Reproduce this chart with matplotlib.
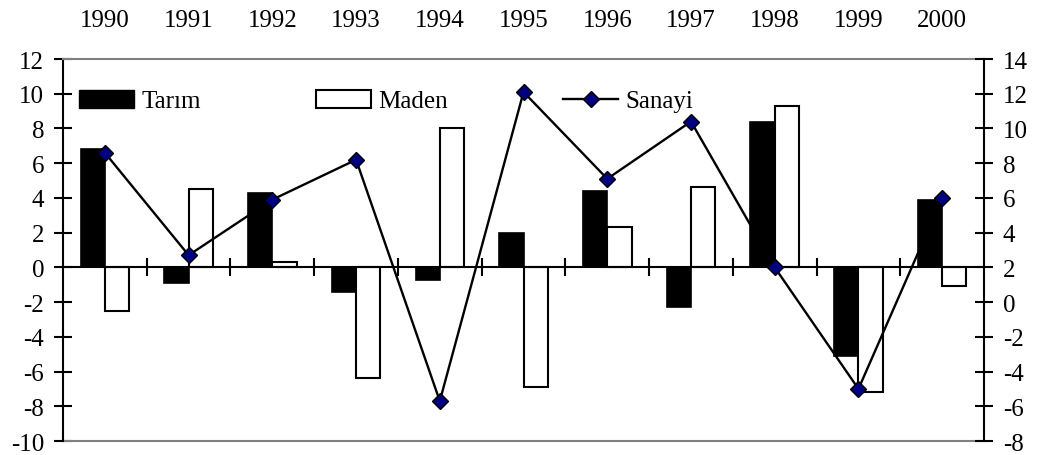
import numpy as np
import matplotlib.pyplot as plt
from matplotlib.patches import Patch
from matplotlib.lines import Line2D

plt.rcParams['font.family'] = 'Liberation Serif'
plt.rcParams['font.size'] = 18
plt.rcParams['axes.unicode_minus'] = False  # plain hyphen like the original

# values (growth rates, %)
years = ['1990', '1991', '1992', '1993', '1994', '1995', '1996', '1997', '1998', '1999', '2000']
tarim = [6.8, -0.9, 4.3, -1.4, -0.7, 2.0, 4.4, -2.3, 8.4, -5.1, 3.9]
maden = [-2.5, 4.5, 0.3, -6.4, 8.0, -6.9, 2.3, 4.6, 9.3, -7.2, -1.1]
sanayi = [8.6, 2.7, 5.9, 8.2, -5.7, 12.1, 7.1, 10.4, 2.0, -5.0, 6.0]

fig = plt.figure(figsize=(10.4, 4.56), dpi=100)
ax = fig.add_axes([0.0606, 0.0307, 0.8856, 0.8377])

x = np.arange(len(years))
w = 0.29
ax.bar(x - w/2, tarim, w, color='black', edgecolor='black', linewidth=1.2)
ax.bar(x + w/2, maden, w, color='white', edgecolor='black', linewidth=1.5)

ax.set_xlim(-0.5, 10.5)
ax.set_ylim(-10, 12)
ax.set_yticks(range(-10, 13, 2))

# x axis sits on zero, gray frame lines top and bottom
ax.spines['bottom'].set_position(('data', 0))
ax.spines['bottom'].set_linewidth(1.5)
ax.spines['left'].set_linewidth(1.5)
ax.spines['right'].set_visible(False)
ax.spines['top'].set_color('#808080')
ax.spines['top'].set_linewidth(1.5)
ax.axhline(-10, color='#808080', lw=1.5, clip_on=False)

ax.set_xticks(x[1:] - 0.5)
ax.set_xticklabels([])
ax.tick_params(axis='x', direction='inout', length=13, width=1.5)
ax.tick_params(axis='y', direction='inout', length=13, width=1.5, pad=7)

# years on top
top = ax.secondary_xaxis('top')
top.set_xticks(x, years)
top.tick_params(length=0, pad=20)
top.spines['top'].set_visible(False)

# sanayi on the right axis
ax2 = ax.twinx()
ax2.plot(x, sanayi, color='black', lw=1.7, marker='D', ms=8,
         mfc='#000080', mec='black', mew=1)
ax2.set_ylim(-8, 14)
ax2.set_yticks(range(-8, 15, 2))
for s in ['top', 'bottom', 'left']:
    ax2.spines[s].set_visible(False)
ax2.spines['right'].set_linewidth(1.5)
ax2.tick_params(axis='y', direction='inout', length=13, width=1.5, pad=7)

handles = [Patch(fc='black', ec='black'),
           Patch(fc='white', ec='black', lw=1.5),
           Line2D([], [], color='black', lw=1.7, marker='D', ms=8, mfc='#000080', mec='black')]
ax2.legend(handles, ['Tarım', 'Maden', 'Sanayi'], ncol=3, frameon=False,
           loc='center left', bbox_to_anchor=(0.0174, 0.89), borderpad=0, borderaxespad=0,
           handlelength=2.2, handleheight=0.75, handletextpad=0.3, columnspacing=4.6)

plt.savefig('out.png', dpi=100)
